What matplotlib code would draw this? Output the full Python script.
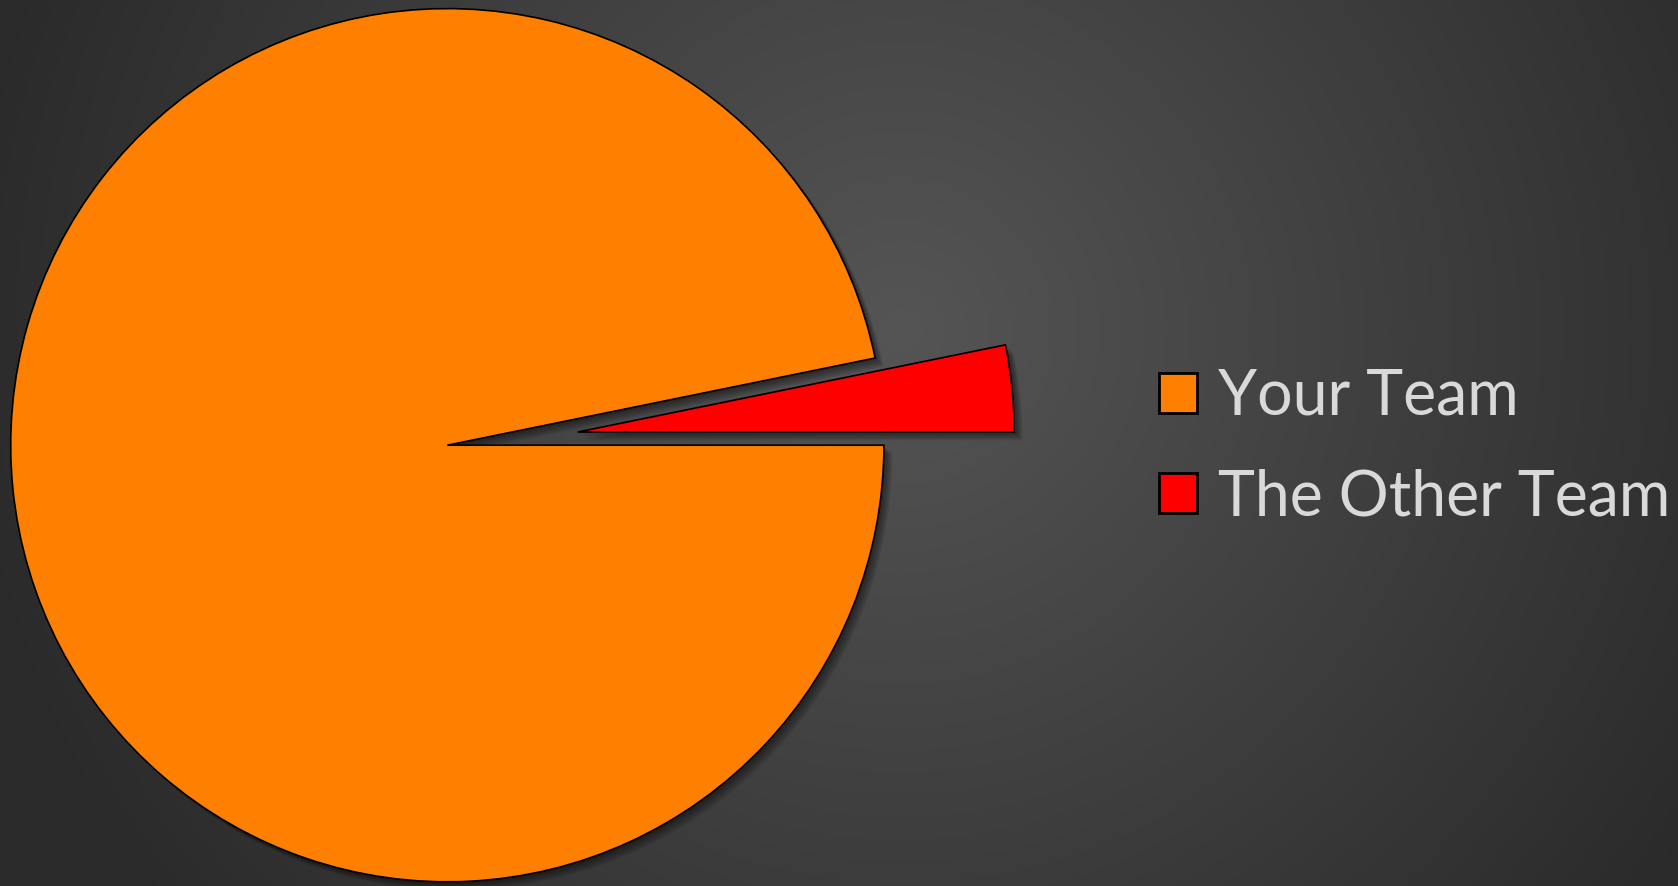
import numpy as np
import matplotlib
matplotlib.use('Agg')
import matplotlib.pyplot as plt
from matplotlib.patches import Patch
import matplotlib.patheffects as pe

# data
teams = ['Your Team', 'The Other Team']
shares = [96.8, 3.2]
team_colors = ['#ff8000', '#ff0000']
explode = [0, 0.3]

W, H, DPI = 1678, 886, 100
fig = plt.figure(figsize=(W / DPI, H / DPI), dpi=DPI)

# radial gradient background
bg = fig.add_axes([0, 0, 1, 1])
yy, xx = np.mgrid[0:H, 0:W]
d = np.sqrt((xx - 900) ** 2 + (yy - 330) ** 2) / 950
d = np.clip(d, 0, 1)
v = (85 - 43 * d) / 255
bg.imshow(np.dstack([v, v, v]), extent=(0, W, H, 0), aspect='auto')
bg.set_axis_off()

# pie
ax = fig.add_axes([0, 0, 1, 1])
ax.patch.set_alpha(0)
shadow = [pe.SimplePatchShadow(offset=(k, -k), shadow_rgbFace='black', alpha=0.09)
          for k in (1, 2, 3, 4, 5, 6)]
wedges, _ = ax.pie(shares, colors=team_colors, explode=explode,
                   startangle=0, counterclock=False,
                   wedgeprops=dict(edgecolor='black', linewidth=1.2))
for w in wedges:
    w.set_path_effects(shadow + [pe.Normal()])

r_px = 436.6
cx, cy = 447.3, 445.2
ax.set_aspect('auto')
ax.set_xlim(-cx / r_px, (W - cx) / r_px)
ax.set_ylim(-(H - cy) / r_px, cy / r_px)
ax.set_axis_off()

handles = [Patch(facecolor=c, edgecolor='black', linewidth=2) for c in team_colors]
fig.legend(handles, teams, loc='center left', bbox_to_anchor=(1159 / W, 1 - 447 / H),
           frameon=False, borderpad=0, borderaxespad=0,
           prop=dict(family='Lato', size=45), labelcolor='#d9d9d9',
           handlelength=0.6, handleheight=0.6, handletextpad=0.35,
           labelspacing=0.68)

fig.savefig('out.png', dpi=DPI)
